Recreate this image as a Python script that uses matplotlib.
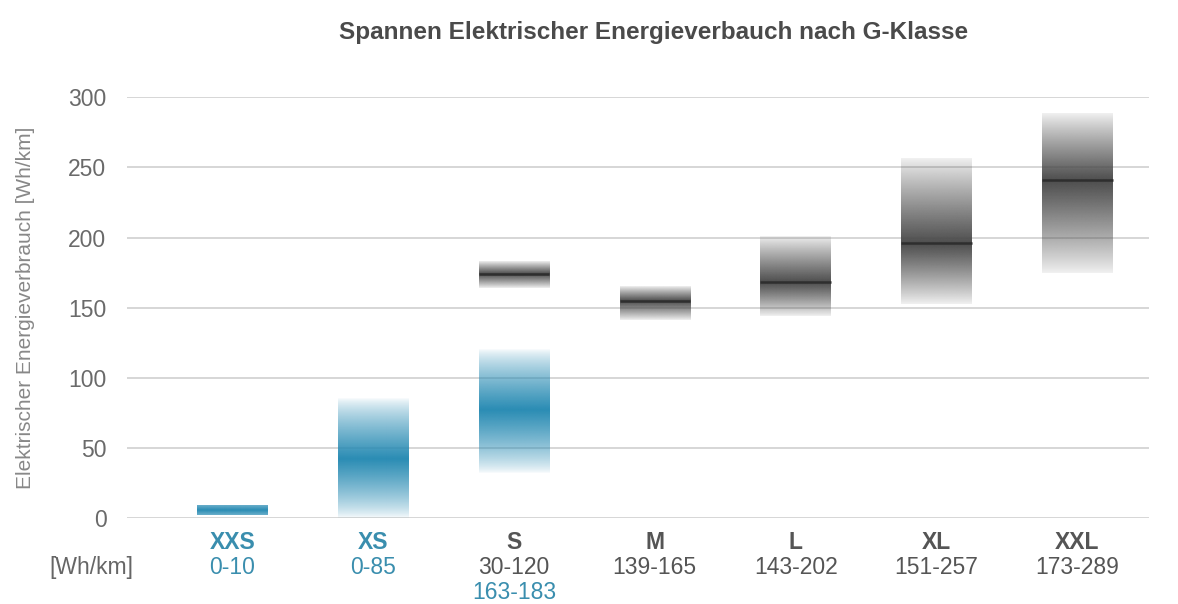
import numpy as np
import matplotlib
matplotlib.use("Agg")
import matplotlib.pyplot as plt
from matplotlib.colors import to_rgb
from matplotlib.transforms import blended_transform_factory

plt.rcParams['font.family'] = ['Liberation Sans', 'DejaVu Sans']

# Data
classes = ["XXS", "XS", "S", "M", "L", "XL", "XXL"]
range_text = ["0-10", "0-85", "30-120", "139-165", "143-202", "151-257", "173-289"]
extra_text = {2: "163-183"}

# blue bands (no median line)
blue_pos = [0, 1, 2]
blue_low = [2, 0, 32]
blue_high = [9, 85, 120]
blue_peak = [5.5, 42, 77]

# grey bands with median line
grey_pos = [2, 3, 4, 5, 6]
grey_low = [164, 141, 144, 153, 175]
grey_high = [183, 165, 201, 257, 289]
grey_mid = [174, 154.5, 168, 196, 241]

blue = "#2a8cb4"
grey = "#4d4d4d"
blue_txt = "#3a8eae"
grey_txt = "#555555"
bar_w = 0.5


def band(ax, x, lo, hi, peak, color, floor=0.06, power=1.2):
    n = 300
    y = np.linspace(lo, hi, n)
    d = np.where(y >= peak, (y - peak) / max(hi - peak, 1e-9), (peak - y) / max(peak - lo, 1e-9))
    a = floor + (1 - floor) * np.clip(1 - d, 0, 1) ** power
    img = np.zeros((n, 2, 4))
    img[..., :3] = to_rgb(color)
    img[..., 3] = a[:, None]
    ax.imshow(img, extent=(x - bar_w / 2, x + bar_w / 2, lo, hi), origin="lower",
              aspect="auto", interpolation="bilinear", zorder=3)


fig = plt.figure(figsize=(11.78, 6.04), dpi=100)
ax = fig.add_axes([0.108, 0.142, 0.867, 0.697])

for x, lo, hi, pk in zip(blue_pos, blue_low, blue_high, blue_peak):
    if hi - lo < 15:
        band(ax, x, lo, hi, pk, blue, floor=0.7, power=1.0)
    else:
        band(ax, x, lo, hi, pk, blue, floor=0.02, power=0.75)

for x, lo, hi, md in zip(grey_pos, grey_low, grey_high, grey_mid):
    band(ax, x, lo, hi, md, grey, floor=0.08, power=0.9)
    ax.plot([x - bar_w / 2, x + bar_w / 2], [md, md], color="#2e2e2e", lw=1.8, zorder=4,
            solid_capstyle="butt")

ax.set_xlim(-0.745, 6.505)
ax.set_ylim(0, 300)
ax.set_yticks([0, 50, 100, 150, 200, 250, 300])
ax.yaxis.grid(True, color="#cfcfcf", lw=1.2, zorder=0)
ax.set_axisbelow(True)
for s in ax.spines.values():
    s.set_visible(False)
ax.tick_params(axis="y", length=0, pad=15, labelsize=16.5, labelcolor="#6a6a6a")
ax.set_xticks([])
ax.set_ylabel("Elektrischer Energieverbrauch [Wh/km]", fontsize=15, color="#888888", labelpad=24)

# category labels below the axis
tr = blended_transform_factory(ax.transData, ax.transAxes)
for i, (c, r) in enumerate(zip(classes, range_text)):
    col = blue_txt if i < 2 else grey_txt
    ax.text(i, -0.058, c, transform=tr, ha="center", va="center", fontsize=16.5,
            fontweight="bold", color=col)
    ax.text(i, -0.118, r, transform=tr, ha="center", va="center", fontsize=16.5,
            color=col)
for i, r in extra_text.items():
    ax.text(i, -0.176, r, transform=tr, ha="center", va="center", fontsize=16.5, color=blue_txt)
ax.text(-0.7, -0.118, "[Wh/km]", transform=tr, ha="right", va="center", fontsize=16.5,
        color="#666666")

fig.text(0.555, 0.947, "Spannen Elektrischer Energieverbauch nach G-Klasse", ha="center",
         va="center", fontsize=17.5, fontweight="bold", color="#4a4a4a")

fig.savefig("out.png", dpi=100)
